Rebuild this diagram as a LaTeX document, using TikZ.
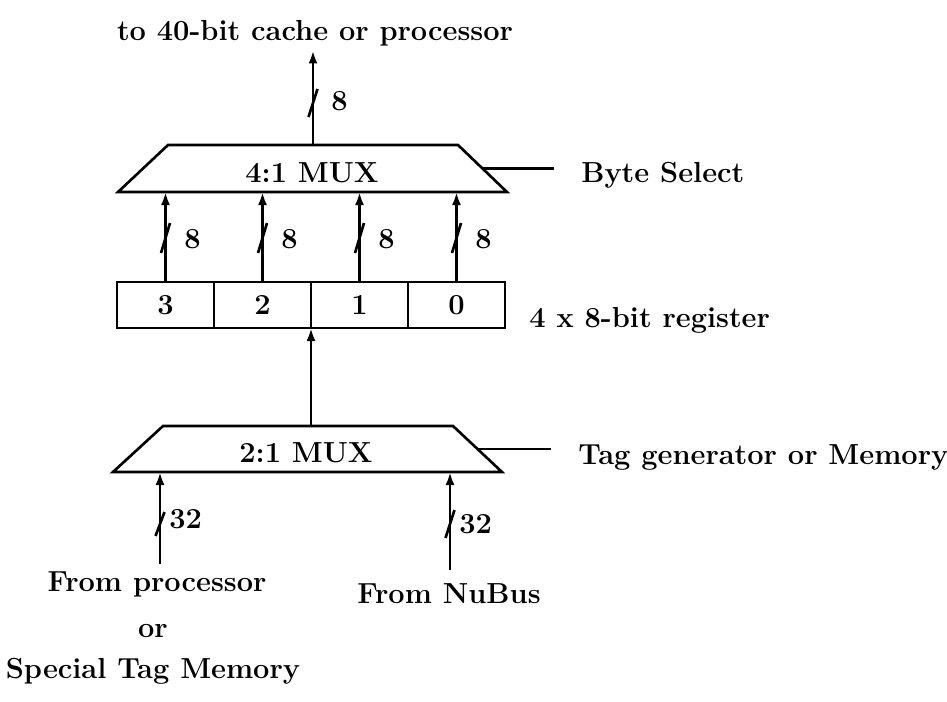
\documentclass[tikz,border=0pt]{standalone}
\usetikzlibrary{arrows.meta,calc}

\begin{document}
\begin{tikzpicture}[x=0.02cm,y=-0.02cm,line width=1.5pt,>={Latex[length=2.6mm,width=1.8mm]},
  txt/.style={font=\fontsize{16.5}{19}\selectfont\bfseries,inner sep=2pt},
  cell/.style={txt,draw,minimum width=1.94cm,minimum height=0.92cm,inner sep=0pt,outer sep=0pt}]
  \useasboundingbox (0,0) rectangle (947,701);
  % mux 4:1 y salida
  \coordinate (m4a) at (118,192); \coordinate (m4b) at (168,145);
  \coordinate (m4c) at (458,145); \coordinate (m4d) at (507,192);
  \draw (m4a)--(m4b)--(m4c)--(m4d)--cycle;
  \node[txt,anchor=base] (mux4) at (312,182) {4:1 MUX};
  \coordinate (m4top) at (313,145);
  \node[txt,anchor=base] (title) at (315,40) {to 40-bit cache or processor};
  \draw[->] (m4top) -- (m4top |- title.south);
  \draw (308.5,117) -- (317.5,89);
  \node[txt,anchor=base west] (w4) at (326.5,110) {8};
  % byte select
  \coordinate (m4r) at ($(m4c)!0.5!(m4d)$);
  \node[txt,anchor=base west] (bsel) at (576.5,182) {Byte Select};
  \draw[shorten >=0.45cm] (m4r) -- (m4r -| bsel.west);
  % registro 4 x 8
  \foreach \n/\x in {3/165.5,2/262.5,1/359.5,0/456.5} {
    \node[cell] (r\n) at (\x,305) {\n};
    \draw[->] (r\n.north) -- (r\n.north |- m4a);
    \draw (\x-4.5,253) -- (\x+4.5,223);
    \node[txt,anchor=base west] (w\n) at (\x+14,248) {8};
  }
  \node[txt,anchor=base west] (regl) at (524.5,327) {4 x 8-bit register};
  % mux 2:1
  \coordinate (m2a) at (113,472); \coordinate (m2b) at (163,426);
  \coordinate (m2c) at (453,426); \coordinate (m2d) at (502,472);
  \draw (m2a)--(m2b)--(m2c)--(m2d)--cycle;
  \node[txt,anchor=base] (mux2) at (306,462) {2:1 MUX};
  \draw[->] (r2.south east |- m2b) -- (r2.south east);
  \coordinate (m2r) at ($(m2c)!0.5!(m2d)$);
  \node[txt,anchor=base west] (tsel) at (573.5,464) {Tag generator or Memory};
  \draw[shorten >=0.45cm] (m2r) -- (m2r -| tsel.west);
  % entradas de 32 bits
  \node[txt,anchor=base] (fproc) at (157,591) {From processor};
  \node[txt,anchor=base] (orw) at (153,637) {or};
  \node[txt,anchor=base] (stm) at (153,678) {Special Tag Memory};
  \node[txt,anchor=base] (nubus) at (449,603) {From NuBus};
  \coordinate (in1) at (160,564); \coordinate (in2) at (450,570);
  \draw[->] (in1) -- (in1 |- m2a);
  \draw[->] (in2) -- (in2 |- m2a);
  \draw (155.5,536) -- (164.5,512);
  \draw (445.5,538) -- (454.5,510);
  \node[txt,anchor=base west] (w32a) at (164.5,528) {32};
  \node[txt,anchor=base west] (w32b) at (454.5,533) {32};
\end{tikzpicture}
\end{document}
